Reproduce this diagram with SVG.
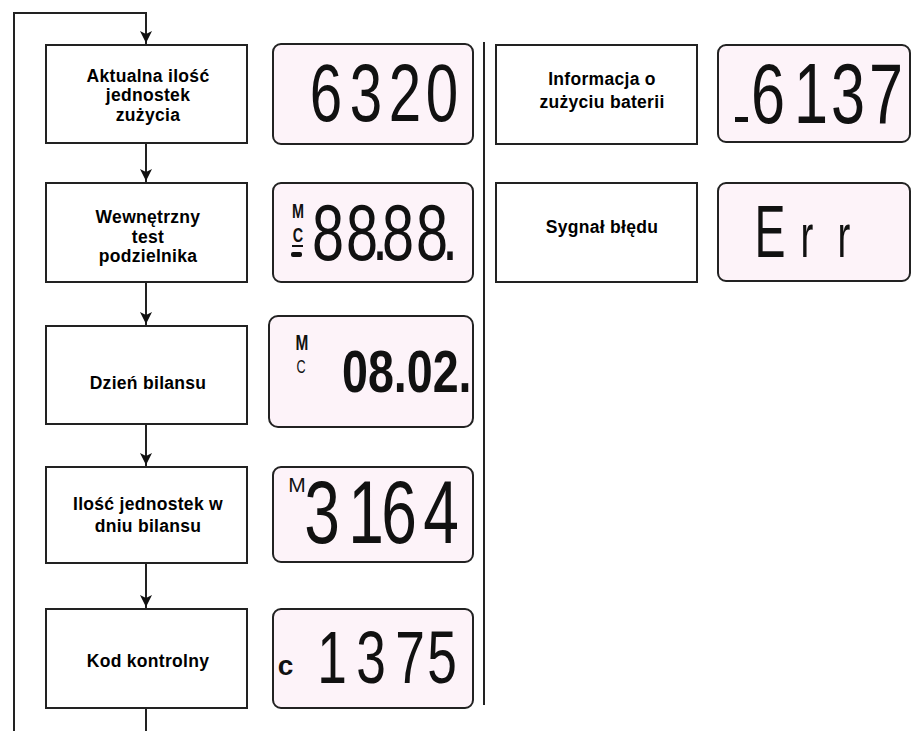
<svg xmlns="http://www.w3.org/2000/svg" width="911" height="731" viewBox="0 0 911 731">
<style>
.box{fill:#fff;stroke:#222;stroke-width:2}
.lcd{fill:#fdf3f9;stroke:#222;stroke-width:2}
.lbl{font-family:"Liberation Sans",Arial,sans-serif;font-weight:bold;font-size:17.5px;text-anchor:middle;letter-spacing:0.3px;fill:#000}
.seg{font-family:"Liberation Sans",Arial,sans-serif;font-weight:normal;text-anchor:middle;fill:#111}
.tag{font-family:"Liberation Sans",Arial,sans-serif;text-anchor:middle;fill:#111}
.con{fill:none;stroke:#222;stroke-width:2}
</style>
<defs>
<marker id="arr" viewBox="0 0 12 12" refX="14" refY="6" markerWidth="12" markerHeight="12" markerUnits="userSpaceOnUse" orient="auto">
<path d="M0,0 L12,6 L0,12 L3,6 z" fill="#111"/>
</marker>
</defs>
<rect width="911" height="731" fill="#fff"/>

<g id="connectors">
<path class="con" d="M14,731 V13 H146 V45" marker-end="url(#arr)"/>
<path class="con" d="M146,143 V183" marker-end="url(#arr)"/>
<path class="con" d="M146,282 V326" marker-end="url(#arr)"/>
<path class="con" d="M146,424 V467" marker-end="url(#arr)"/>
<path class="con" d="M146,563 V609" marker-end="url(#arr)"/>
<path class="con" d="M146,708 V731"/>
<path class="con" d="M484,42 V705"/>
</g>

<g id="node-aktualna">
<rect class="box" x="46" y="45" width="201" height="98"/>
<text class="lbl" x="148" y="82">Aktualna ilość</text>
<text class="lbl" x="148" y="101">jednostek</text>
<text class="lbl" x="148" y="121">zużycia</text>
</g>
<g id="lcd-6320">
<rect class="lcd" x="273" y="44" width="200" height="100" rx="8"/>
<text class="seg" font-size="81" transform="scale(0.72,1)" x="452.8 508.3 562.5 613.9" y="121">6320</text>
</g>

<g id="node-test">
<rect class="box" x="46" y="183" width="201" height="99"/>
<text class="lbl" x="148" y="223">Wewnętrzny</text>
<text class="lbl" x="148" y="243">test</text>
<text class="lbl" x="148" y="262">podzielnika</text>
</g>
<g id="lcd-8888">
<rect class="lcd" x="273" y="183" width="200" height="99" rx="8"/>
<text class="tag" font-weight="bold" font-size="20" transform="scale(0.72,1)" x="413.9" y="218">M</text>
<text class="tag" font-weight="bold" font-size="20" transform="scale(0.72,1)" x="413.9" y="242">C</text>
<line x1="292" y1="246" x2="303" y2="246" stroke="#111" stroke-width="2"/>
<rect x="291" y="252" width="11" height="5" rx="2" fill="#111"/>
<text class="seg" font-size="80" transform="scale(0.72,1)" x="455.6 502.8 527.8 552.8 600 625" y="260">88.88.</text>
</g>

<g id="node-dzien">
<rect class="box" x="46" y="326" width="201" height="98"/>
<text class="lbl" x="148" y="389">Dzień bilansu</text>
</g>
<g id="lcd-0802">
<rect class="lcd" x="269" y="316" width="204" height="111" rx="9"/>
<text class="tag" font-weight="bold" font-size="22" transform="scale(0.7,1)" x="431.4" y="350">M</text>
<text class="tag" font-weight="normal" font-size="18" transform="scale(0.7,1)" x="430" y="373">C</text>
<text class="tag" font-weight="bold" font-size="59" transform="scale(0.79,1)" x="432.9" y="392" style="text-anchor:start">08.02.</text>
</g>

<g id="node-ilosc">
<rect class="box" x="46" y="467" width="201" height="96"/>
<text class="lbl" x="148" y="510">Ilość jednostek w</text>
<text class="lbl" x="148" y="532">dniu bilansu</text>
</g>
<g id="lcd-3164">
<rect class="lcd" x="273" y="467" width="200" height="95" rx="8"/>
<text class="tag" font-size="21" x="297" y="492">M</text>
<text class="seg" font-size="89" transform="scale(0.72,1)" x="447.2 508.3 554.2 612.5" y="543">3164</text>
</g>

<g id="node-kod">
<rect class="box" x="46" y="609" width="201" height="99"/>
<text class="lbl" x="148" y="667">Kod kontrolny</text>
</g>
<g id="lcd-1375">
<rect class="lcd" x="273" y="609" width="200" height="99" rx="8"/>
<text class="tag" font-weight="bold" font-size="28" x="285.5" y="675">c</text>
<text class="seg" font-size="74" transform="scale(0.72,1)" x="461.1 515.3 569.4 613.9" y="683">1375</text>
</g>

<g id="node-bateria">
<rect class="box" x="496" y="45" width="201" height="99"/>
<text class="lbl" x="602" y="85">Informacja o</text>
<text class="lbl" x="602" y="108">zużyciu baterii</text>
</g>
<g id="lcd-6137">
<rect class="lcd" x="718" y="45" width="192" height="97" rx="8"/>
<rect x="735" y="117" width="13" height="5" fill="#111"/>
<text class="seg" font-size="85" transform="scale(0.72,1)" x="1066.7 1126.4 1177.8 1230.6" y="123">6137</text>
</g>

<g id="node-blad">
<rect class="box" x="496" y="183" width="201" height="99"/>
<text class="lbl" x="602" y="233">Sygnał błędu</text>
</g>
<g id="lcd-err">
<rect class="lcd" x="718" y="183" width="192" height="98" rx="8"/>
<text class="seg" font-size="75" transform="scale(0.62,1)" x="1241.9" y="257">E<tspan font-size="62" x="1301.6 1361.3">rr</tspan></text>
</g>
</svg>
